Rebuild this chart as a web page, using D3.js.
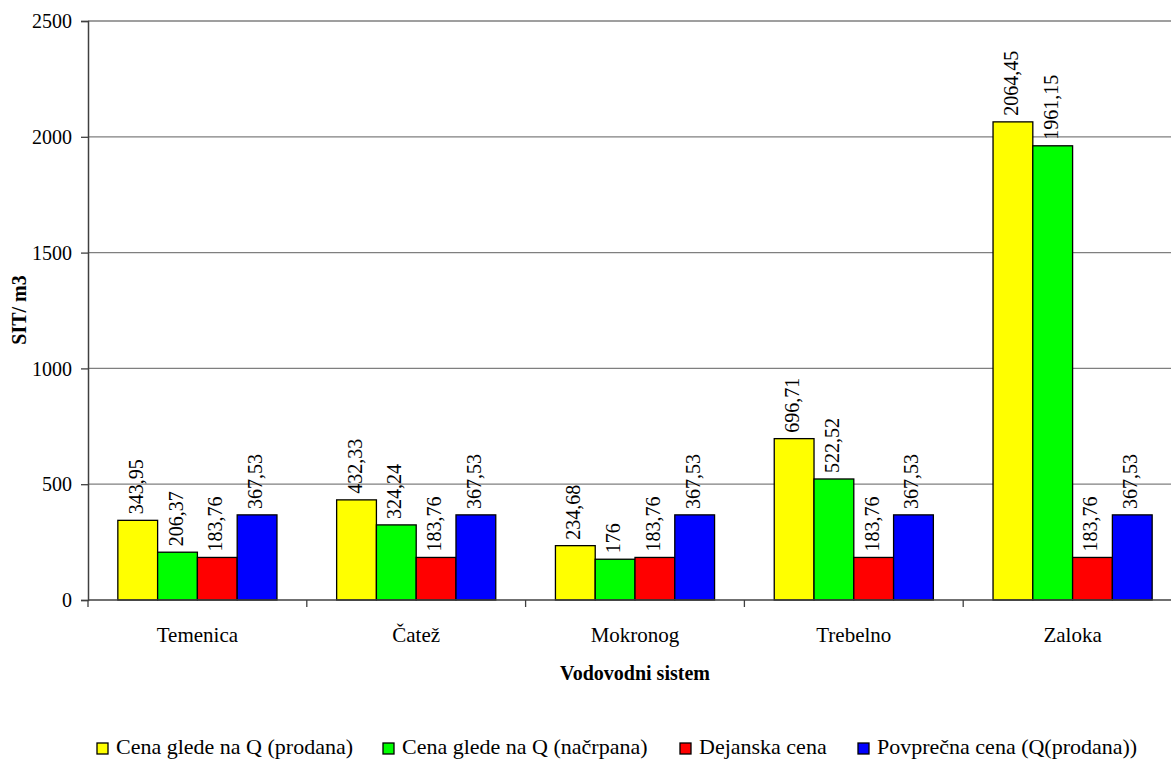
<!DOCTYPE html>
<html>
<head>
<meta charset="utf-8">
<script src="https://cdn.jsdelivr.net/npm/d3@7"></script>
<style>
  html, body { margin: 0; padding: 0; background: #fff; overflow: hidden; }
  svg { display: block; }
  svg text { font-family: 'Liberation Serif', 'DejaVu Serif', serif; }
</style>
</head>
<body>
<svg id="chart" width="1171" height="760"></svg>
<script>
const categories = ["Temenica", "Čatež", "Mokronog", "Trebelno", "Zaloka"];
const seriesNames = ["Cena glede na Q (prodana)", "Cena glede na Q (načrpana)", "Dejanska cena", "Povprečna cena (Q(prodana))"];
const seriesColors = ["#ffff00", "#00ff00", "#ff0000", "#0000ff"];
const prodana = [343.95, 432.33, 234.68, 696.71, 2064.45];
const nacrpana = [206.37, 324.24, 176, 522.52, 1961.15];
const dejanska = [183.76, 183.76, 183.76, 183.76, 183.76];
const povprecna = [367.53, 367.53, 367.53, 367.53, 367.53];
const yTicks = [0, 500, 1000, 1500, 2000, 2500];
const yTitle = "SIT/ m3";
const xTitle = "Vodovodni sistem";

const seriesValues = [prodana, nacrpana, dejanska, povprecna];

const svg = d3.select("#chart");
const plotLeft = 88, plotRight = 1182, plotTop = 21, plotBottom = 600;

const x0 = d3.scaleBand().domain(categories).range([plotLeft, plotRight]).padding(0);
const bw = x0.bandwidth();
const gap = bw * 1.5 / 5.5;
const x1 = d3.scaleBand().domain(d3.range(seriesNames.length)).range([gap / 2, bw - gap / 2]).padding(0);
const y = d3.scaleLinear().domain([0, 2500]).range([plotBottom, plotTop]);

// gridlines
svg.append("g").selectAll("line").data(yTicks.filter(t => t > 0)).join("line")
  .attr("x1", plotLeft).attr("x2", plotRight)
  .attr("y1", d => y(d)).attr("y2", d => y(d))
  .attr("stroke", "#7f7f7f").attr("stroke-width", 1.3);

// bars
const fmt = v => String(v).replace(".", ",");
const groups = svg.append("g").selectAll("g").data(categories).join("g")
  .attr("transform", c => `translate(${x0(c)},0)`);

groups.each(function(c, ci) {
  const g = d3.select(this);
  seriesValues.forEach((vals, si) => {
    const v = vals[ci];
    g.append("rect")
      .attr("x", x1(si)).attr("width", x1.bandwidth())
      .attr("y", y(v)).attr("height", y(0) - y(v))
      .attr("fill", seriesColors[si])
      .attr("stroke", "#000").attr("stroke-width", 1.3);
    g.append("text")
      .attr("transform", `translate(${x1(si) + x1.bandwidth() / 2 - 2},${y(v) - 6}) rotate(-90)`)
      .attr("dy", "0.35em")
      .attr("font-size", 20)
      .attr("fill", "#000")
      .text(fmt(v));
  });
});

// y axis
const yAxis = d3.axisLeft(y).tickValues(yTicks).tickSize(7).tickPadding(9).tickFormat(d3.format("d"));
const yg = svg.append("g").attr("transform", `translate(${plotLeft},0)`).call(yAxis);
yg.attr("font-family", null);
yg.select(".domain").attr("stroke", "#404040").attr("stroke-width", 1.5);
yg.selectAll(".tick line").attr("stroke", "#404040").attr("stroke-width", 1.3);
yg.selectAll(".tick text").attr("font-size", 20).attr("fill", "#000").attr("dy", "0.33em");

// x axis
svg.append("line").attr("x1", plotLeft).attr("x2", plotRight).attr("y1", y(0)).attr("y2", y(0))
  .attr("stroke", "#404040").attr("stroke-width", 1.5);
const bounds = categories.map(c => x0(c)).concat([x0(categories[categories.length - 1]) + bw]);
svg.append("g").selectAll("line").data(bounds).join("line")
  .attr("x1", d => d).attr("x2", d => d)
  .attr("y1", y(0)).attr("y2", y(0) + 7)
  .attr("stroke", "#404040").attr("stroke-width", 1.3);
svg.append("g").selectAll("text").data(categories).join("text")
  .attr("x", c => x0(c) + bw / 2).attr("y", 642)
  .attr("text-anchor", "middle").attr("font-size", 21).attr("fill", "#000")
  .text(c => c);

// axis titles
svg.append("text").attr("x", (plotLeft + plotRight) / 2).attr("y", 680)
  .attr("text-anchor", "middle").attr("font-size", 20).attr("font-weight", "bold")
  .text(xTitle);
svg.append("text").attr("transform", `translate(26,310) rotate(-90)`)
  .attr("text-anchor", "middle").attr("font-size", 20).attr("font-weight", "bold")
  .text(yTitle);

// legend
const legendX = [97, 383, 680, 858];
const lg = svg.append("g").selectAll("g").data(seriesNames).join("g")
  .attr("transform", (d, i) => `translate(${legendX[i]},743)`);
lg.append("rect").attr("width", 11).attr("height", 11)
  .attr("fill", (d, i) => seriesColors[i]).attr("stroke", "#000").attr("stroke-width", 1.3);
lg.append("text").attr("x", 19).attr("y", 11).attr("font-size", 22).attr("fill", "#000")
  .text(d => d);

svg.selectAll("text").attr("font-family", "Liberation Serif");
</script>
</body>
</html>
